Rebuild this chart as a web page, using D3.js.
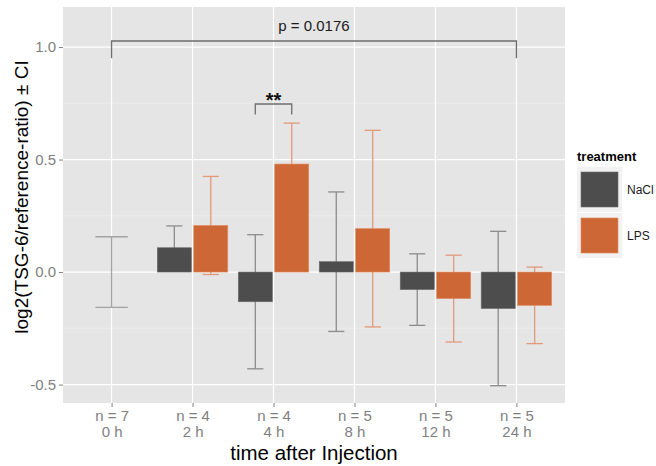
<!DOCTYPE html>
<html lang="en">
<head>
<meta charset="utf-8">
<title>TSG-6</title>
<script src="https://cdn.jsdelivr.net/npm/d3@7"></script>
<style>
  body { margin: 0; background: #ffffff; font-family: "Liberation Sans", Arial, sans-serif; }
  .tick text { fill: #7f7f7f; font-size: 15px; }
</style>
</head>
<body>
<div id="chart"></div>
<script>
// data
var groups = ["0 h", "2 h", "4 h", "8 h", "12 h", "24 h"];
var nLabels = ["n = 7", "n = 4", "n = 4", "n = 5", "n = 5", "n = 5"];
var treatments = ["NaCl", "LPS"];
var naclMean = [0, 0.108, -0.132, 0.046, -0.078, -0.162];
var naclCI = [0.157, 0.097, 0.298, 0.31, 0.159, 0.343];
var lpsMean = [null, 0.207, 0.48, 0.193, -0.118, -0.148];
var lpsCI = [null, 0.218, 0.182, 0.437, 0.193, 0.17];
var yTicks = [-0.5, 0, 0.5, 1.0];
var minorTicks = [-0.25, 0.25, 0.75];

var W = 656, H = 466;
var m = { left: 63, top: 7, right: 91, bottom: 63 };
var pw = W - m.left - m.right, ph = H - m.top - m.bottom;

var svg = d3.select("#chart").append("svg")
    .attr("width", W)
    .attr("height", H);

// ggplot discrete expansion: 0.6 units each side
var x = d3.scalePoint().domain(groups).range([0, pw]).padding(0.6);
var step = x.step();
var y = d3.scaleLinear().domain([-0.582, 1.178]).range([ph, 0]);

var colors = { NaCl: "#4d4d4d", LPS: "#cd6736" };
var errColors = { NaCl: "#8c8c8c", LPS: "#e2997a" };

var g = svg.append("g").attr("transform", "translate(" + m.left + "," + m.top + ")");

g.append("rect").attr("width", pw).attr("height", ph).attr("fill", "#e5e5e5");

// grid
g.selectAll(".minor").data(minorTicks).enter().append("line")
    .attr("x1", 0).attr("x2", pw)
    .attr("y1", function(d){ return y(d); }).attr("y2", function(d){ return y(d); })
    .attr("stroke", "#f0f0f0").attr("stroke-width", 0.6);
g.selectAll(".major").data(yTicks).enter().append("line")
    .attr("x1", 0).attr("x2", pw)
    .attr("y1", function(d){ return y(d); }).attr("y2", function(d){ return y(d); })
    .attr("stroke", "#ffffff").attr("stroke-width", 1.2);
g.selectAll(".vgrid").data(groups).enter().append("line")
    .attr("x1", function(d){ return x(d); }).attr("x2", function(d){ return x(d); })
    .attr("y1", 0).attr("y2", ph)
    .attr("stroke", "#ffffff").attr("stroke-width", 1.2);

// build rows
var rows = [];
groups.forEach(function(gr, i) {
  var both = lpsMean[i] !== null;
  rows.push({ g: gr, t: "NaCl", mean: naclMean[i], ci: naclCI[i], off: both ? -0.225 : 0, w: both ? 0.2 : 0.4 });
  if (both) rows.push({ g: gr, t: "LPS", mean: lpsMean[i], ci: lpsCI[i], off: 0.225, w: 0.2 });
});

var barW = 0.42 * step;

// error bars (drawn under bars)
var eb = g.selectAll(".eb").data(rows).enter().append("g")
    .attr("stroke", function(d){ return d.mean === 0 ? "#a3a3a3" : errColors[d.t]; })
    .attr("stroke-width", 1.3)
    .attr("fill", "none");
eb.append("line")
    .attr("x1", function(d){ return x(d.g) + d.off * step; })
    .attr("x2", function(d){ return x(d.g) + d.off * step; })
    .attr("y1", function(d){ return y(d.mean + d.ci); })
    .attr("y2", function(d){ return y(d.mean - d.ci); });
eb.append("line")
    .attr("x1", function(d){ return x(d.g) + (d.off - d.w / 2) * step; })
    .attr("x2", function(d){ return x(d.g) + (d.off + d.w / 2) * step; })
    .attr("y1", function(d){ return y(d.mean + d.ci); })
    .attr("y2", function(d){ return y(d.mean + d.ci); });
eb.append("line")
    .attr("x1", function(d){ return x(d.g) + (d.off - d.w / 2) * step; })
    .attr("x2", function(d){ return x(d.g) + (d.off + d.w / 2) * step; })
    .attr("y1", function(d){ return y(d.mean - d.ci); })
    .attr("y2", function(d){ return y(d.mean - d.ci); });

// bars
g.selectAll(".bar").data(rows.filter(function(d){ return d.mean !== 0; })).enter().append("rect")
    .attr("x", function(d){ return x(d.g) + d.off * step - barW / 2; })
    .attr("width", barW)
    .attr("y", function(d){ return y(Math.max(0, d.mean)); })
    .attr("height", function(d){ return Math.abs(y(d.mean) - y(0)); })
    .attr("fill", function(d){ return colors[d.t]; })
    .attr("stroke", function(d){ return d.t === "LPS" ? "#e08a60" : "#6a6a6a"; })
    .attr("stroke-width", 0.6);

// significance brackets
var br = g.append("g").attr("stroke", "#6e6e6e").attr("stroke-width", 1.3).attr("fill", "none");
var x0 = x(groups[0]), x5 = x(groups[5]);
br.append("path").attr("d", "M" + x0 + "," + y(0.95) + "V" + y(1.027) + "H" + x5 + "V" + y(0.95));
var a = x(groups[2]) - 0.225 * step, b = x(groups[2]) + 0.225 * step;
br.append("path").attr("d", "M" + a + "," + y(0.70) + "V" + y(0.747) + "H" + b + "V" + y(0.70));

g.append("text").attr("x", (x0 + x5) / 2).attr("y", y(1.027) - 10)
    .attr("text-anchor", "middle").attr("font-size", 15).attr("fill", "#1a1a1a")
    .text("p = 0.0176");
g.append("text").attr("x", (a + b) / 2).attr("y", y(0.747) + 3)
    .attr("text-anchor", "middle").attr("font-size", 20).attr("font-weight", "bold").attr("fill", "#111")
    .text("**");

// axes
var fmt = function(d){ return d3.format(".1f")(d).replace("\u2212", "-"); };
var yAxis = g.append("g").call(d3.axisLeft(y).tickValues(yTicks).tickFormat(fmt).tickSize(4).tickPadding(3));
yAxis.select(".domain").remove();
yAxis.selectAll(".tick line").attr("stroke", "#7f7f7f");

var xAxis = g.append("g").attr("transform", "translate(0," + ph + ")")
    .call(d3.axisBottom(x).tickSize(4).tickFormat(""));
xAxis.select(".domain").remove();
xAxis.selectAll(".tick line").attr("stroke", "#7f7f7f");
xAxis.selectAll(".tick").each(function(d, i) {
  var t = d3.select(this).append("text").attr("fill", "#7f7f7f").attr("font-size", 15)
      .attr("text-anchor", "middle");
  t.append("tspan").attr("x", 0).attr("y", 18).text(nLabels[i]);
  t.append("tspan").attr("x", 0).attr("y", 34).text(d);
});

svg.append("text")
    .attr("x", m.left + pw / 2).attr("y", 460)
    .attr("text-anchor", "middle").attr("font-size", 20.5).attr("fill", "#000")
    .text("time after Injection");
svg.append("text")
    .attr("transform", "translate(28,197) rotate(-90)")
    .attr("text-anchor", "middle").attr("font-size", 19).attr("fill", "#000")
    .text("log2(TSG-6/reference-ratio) \u00b1 CI");

// legend
var lg = svg.append("g").attr("transform", "translate(577,145)");
lg.append("text").attr("x", 0).attr("y", 16).attr("font-size", 13).attr("font-weight", "bold")
    .text("treatment");
var key = lg.selectAll(".key").data(treatments).enter().append("g")
    .attr("transform", function(d, i){ return "translate(0," + (22 + i * 46) + ")"; });
key.append("rect").attr("width", 45).attr("height", 45).attr("fill", "#f2f2f2");
key.append("rect").attr("x", 4).attr("y", 5).attr("width", 37).attr("height", 35)
    .attr("fill", function(d){ return colors[d]; })
    .attr("stroke", function(d){ return d === "LPS" ? "#e08a60" : "#6a6a6a"; })
    .attr("stroke-width", 0.6);
key.append("text").attr("x", 50).attr("y", 27).attr("font-size", 12).attr("fill", "#1a1a1a")
    .text(function(d){ return d; });
</script>
</body>
</html>
